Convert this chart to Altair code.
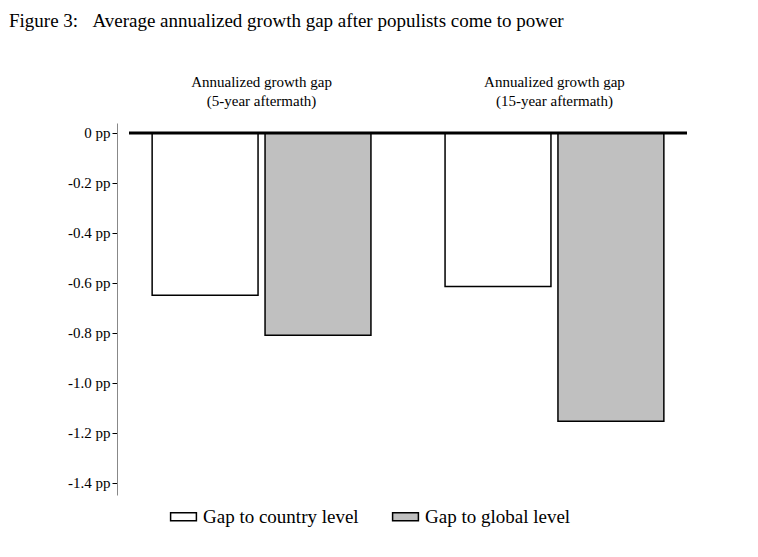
import altair as alt
import pandas as pd

groups = ["5-year", "15-year"]
line1 = ["Annualized growth gap", "Annualized growth gap"]
line2 = ["(5-year aftermath)", "(15-year aftermath)"]
series = ["Gap to country level", "Gap to global level"]
values = [[-0.65, -0.81], [-0.615, -1.155]]
y_ticks = [0, -0.2, -0.4, -0.6, -0.8, -1.0, -1.2, -1.4]

rows = []
for g, vals in zip(groups, values):
    for s, v in zip(series, vals):
        rows.append({"group": g, "series": s, "value": v})
df = pd.DataFrame(rows)
labels = pd.DataFrame({"group": groups, "l1": line1, "l2": line2})

font = "Liberation Serif"
xscale = alt.Scale(domain=groups, paddingInner=0.253, paddingOuter=0.079)

bars = alt.Chart(df).mark_bar(stroke="black", strokeWidth=1.5).encode(
    x=alt.X("group:N", sort=groups, title=None, scale=xscale, axis=None),
    xOffset=alt.XOffset("series:N", sort=series, scale=alt.Scale(paddingInner=0.062, paddingOuter=0)),
    y=alt.Y("value:Q", title=None, scale=alt.Scale(domain=[-1.45, 0.04], nice=False, zero=False),
            axis=alt.Axis(values=y_ticks, grid=False, offset=12, domainColor="#888888",
                          tickColor="black", tickSize=5, labelFontSize=15, labelColor="black",
                          labelExpr="(datum.value == 0 ? '0' : replace(format(datum.value, '.1f'), '\u2212', '-')) + ' pp'")),
    color=alt.Color("series:N", sort=series, title=None,
                    scale=alt.Scale(domain=series, range=["white", "#c0c0c0"]),
                    legend=alt.Legend(orient="none", legendX=45, legendY=384, direction="horizontal",
                                      labelFontSize=19, labelOffset=10,
                                      symbolType="M-1.6,-0.5H1.6V0.5H-1.6Z", symbolSize=260,
                                      symbolStrokeColor="black", symbolStrokeWidth=1.5,
                                      symbolOpacity=1, columnPadding=30, labelColor="black")),
)

t1 = alt.Chart(labels).mark_text(fontSize=15, font=font, color="black").encode(
    x=alt.X("group:N", sort=groups, scale=xscale, axis=None), y=alt.value(-41), text="l1:N")
t2 = alt.Chart(labels).mark_text(fontSize=15, font=font, color="black").encode(
    x=alt.X("group:N", sort=groups, scale=xscale, axis=None), y=alt.value(-22), text="l2:N")

zero = alt.Chart(pd.DataFrame({"y": [0]})).mark_rule(color="black", strokeWidth=3).encode(y="y:Q")

chart = (bars + zero + t1 + t2).properties(
    width=558, height=372,
    title=alt.TitleParams("Figure 3:\u00a0\u00a0\u00a0Average annualized growth gap after populists come to power",
                          anchor="start", frame="group", dx=-120, fontSize=19, fontWeight="normal",
                          font=font, offset=44, color="black"),
    padding={"left": 1, "top": 4, "right": 5, "bottom": 5},
).configure(font=font).configure_view(stroke=None).configure_axis(labelFont=font).configure_legend(labelFont=font)

chart.save("out.html", embed_options={"renderer": "svg", "actions": False})
